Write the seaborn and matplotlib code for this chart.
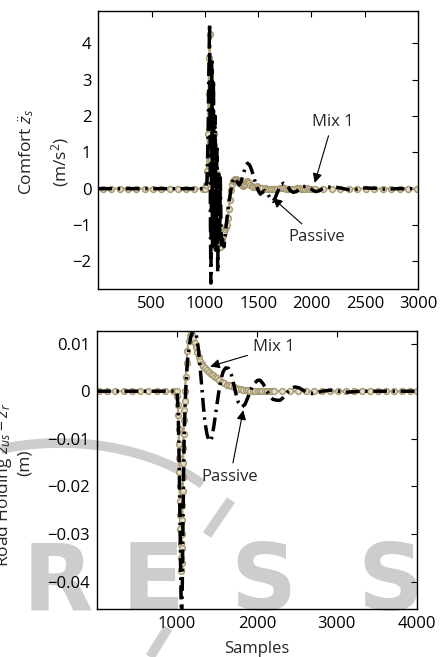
import pandas as pd
import seaborn as sns
import matplotlib.pyplot as plt
from matplotlib.patches import Arc
from matplotlib.lines import Line2D
from matplotlib.transforms import IdentityTransform

## Data
# top panel: comfort (body acceleration), m/s^2
top_passive_x = [0, 1000, 1020, 1030, 1038, 1044, 1048, 1052, 1056, 1060,
                 1064, 1068, 1072, 1076, 1080, 1084, 1088, 1092, 1096, 1100,
                 1104, 1108, 1112, 1116, 1120, 1124, 1128, 1132, 1136, 1140,
                 1144, 1150, 1156, 1162, 1170, 1180, 1190, 1200, 1220, 1240,
                 1260, 1280, 1300, 1320, 1340, 1360, 1380, 1400, 1420, 1440,
                 1460, 1480, 1500, 1520, 1540, 1560, 1580, 1600, 1620, 1640,
                 1660, 1680, 1700, 1720, 1740, 1760, 1780, 1800, 1830, 1860,
                 1890, 1920, 1950, 1980, 2010, 2040, 2070, 2100, 2150, 2200,
                 2250, 2300, 2350, 2400, 2450, 2500, 2600, 2700, 2800, 3000]
top_passive_y = [0, 0, 0.2, 1.5, 3.5, 4.55, 2.0, -1.0, -2.6, -0.5,
                 3.6, 1.0, -1.6, 0.5, 3.0, 1.0, -1.5, -0.5, 2.0, 0.5,
                 -1.7, -1.0, 1.2, 0.0, -2.3, -1.2, 0.4, -0.5, -1.5, -1.0,
                 0.3, -0.8, -1.6, -1.3, -1.5, -1.6, -1.3, -1.0, -0.5, -0.1,
                 0.2, 0.3, 0.2, 0.1, 0.2, 0.4, 0.6, 0.7, 0.65, 0.5,
                 0.3, 0.1, -0.05, -0.15, -0.1, -0.05, -0.1, -0.2, -0.3, -0.35,
                 -0.25, -0.1, 0.05, 0.12, 0.15, 0.12, 0.05, -0.05, -0.1, -0.08,
                 0.0, 0.05, 0.07, 0.03, -0.04, -0.08, -0.06, -0.01, 0.04, 0.05,
                 0.03, 0.0, -0.03, -0.03, 0.0, 0.02, 0.01, -0.02, 0.0, 0.0]

top_mix_x = [44, 122, 200, 278, 356, 434, 512, 590, 668, 746, 824, 902, 980,
             1000, 1010, 1020, 1028, 1034, 1040, 1045, 1050, 1054, 1058,
             1062, 1066, 1070, 1074, 1078, 1082, 1086, 1090, 1094, 1098,
             1102, 1106, 1110, 1114, 1118, 1122, 1126, 1130, 1135, 1140,
             1148, 1156, 1165, 1175, 1185, 1195, 1205, 1215, 1225, 1235,
             1245, 1255, 1265, 1275, 1285, 1295, 1305, 1315, 1325, 1335,
             1345, 1355, 1365, 1375, 1385, 1395, 1405, 1415, 1425, 1440,
             1455, 1470, 1485, 1500, 1520, 1540, 1560, 1580, 1600, 1620,
             1640, 1660, 1680, 1700, 1720, 1740, 1760, 1780, 1800, 1820,
             1840, 1860, 1880, 1900, 1920, 1940, 1960, 1980, 2000, 2030,
             2110, 2190, 2270, 2350, 2430, 2510, 2590, 2670, 2750, 2830,
             2910, 2990]
top_mix_y = [0, 0, 0, 0, 0, 0, 0, 0, 0, 0, 0, 0, 0,
             0.0, 0.1, 0.5, 1.5, 2.6, 3.6, 4.25, 3.2, 2.0, 0.8,
             -0.6, -1.6, -1.2, 0.0, 1.0, 1.5, 1.2, 0.3, -0.6, -1.3,
             -1.6, -1.2, -0.4, 0.2, 0.4, -0.1, -0.8, -1.2, -1.5, -1.6,
             -1.5, -1.4, -1.3, -1.2, -1.1, -1.05, -1.0, -0.8, -0.55, -0.3,
             -0.05, 0.12, 0.22, 0.25, 0.26, 0.26, 0.25, 0.22, 0.18, 0.14,
             0.1, 0.08, 0.09, 0.13, 0.17, 0.2, 0.19, 0.15, 0.1, 0.06,
             0.04, 0.05, 0.06, 0.05, 0.03, 0.02, 0.01, 0.0, -0.01, -0.02,
             -0.02, -0.01, 0.0, 0.01, 0.02, 0.01, 0.0, -0.01, -0.02, -0.01,
             0.0, 0.01, 0.01, 0.0, -0.01, 0.0, 0.01, 0.0, 0.0, 0.0,
             0, 0, 0, 0, 0, 0, 0, 0, 0, 0,
             0, 0]

# bottom panel: road holding (zus - zr), m
bot_passive_x = [0, 1000, 1015, 1028, 1040, 1050, 1058, 1066, 1074, 1082,
                 1090, 1100, 1115, 1130, 1150, 1170, 1190, 1210, 1230, 1250,
                 1270, 1290, 1310, 1330, 1350, 1375, 1400, 1416, 1435, 1460,
                 1490, 1520, 1550, 1580, 1610, 1646, 1680, 1710, 1740, 1770,
                 1812, 1850, 1890, 1930, 1970, 2010, 2041, 2080, 2120, 2160,
                 2200, 2250, 2291, 2340, 2390, 2440, 2479, 2530, 2580, 2630,
                 2687, 2750, 2820, 2900, 2980, 3060, 3140, 3300, 3500, 4000]
bot_passive_y = [0, 0, -0.004, -0.015, -0.03, -0.042, -0.05, -0.042, -0.03, -0.019,
                 -0.01, -0.004, 0.002, 0.006, 0.0092, 0.0112, 0.0122, 0.0126, 0.0125, 0.0112,
                 0.0085, 0.005, 0.001, -0.003, -0.0065, -0.009, -0.0103, -0.0105, -0.0098, -0.0075,
                 -0.004, -0.0005, 0.0025, 0.0042, 0.0049, 0.0048, 0.0035, 0.0015, -0.0007, -0.0024,
                 -0.0033, -0.0028, -0.0012, 0.0005, 0.0017, 0.0023, 0.0023, 0.0015, 0.0002, -0.001,
                 -0.0017, -0.0019, -0.0019, -0.0012, -0.0001, 0.0007, 0.0009, 0.0007, 0.0002, -0.0003,
                 -0.0005, -0.0003, 0.0, 0.0002, 0.0001, -0.0001, -0.0002, 0, 0, 0]

bot_mix_x = [20, 124, 228, 332, 436, 540, 644, 748, 852, 956,
             1000, 1006, 1012, 1016, 1020, 1024, 1027, 1030, 1033, 1036,
             1039, 1042, 1045, 1048, 1051, 1054, 1057, 1060, 1063, 1066,
             1069, 1072, 1075, 1078, 1081, 1084, 1088, 1092, 1097, 1102,
             1110, 1120, 1130, 1145, 1160, 1175, 1190, 1205, 1220, 1235,
             1250, 1270, 1290, 1310, 1330, 1350, 1375, 1400, 1425, 1450,
             1475, 1500, 1530, 1560, 1590, 1620, 1650, 1680, 1710, 1740,
             1770, 1800, 1830, 1860, 1890, 1920, 1950, 1980, 2010, 2040,
             2070, 2100, 2130, 2160, 2190, 2220,
             2320, 2420, 2520, 2620, 2720, 2820, 2920, 3020, 3120, 3220,
             3320, 3420, 3520, 3620, 3720, 3820, 3920, 4000]
bot_mix_y = [0, 0, 0, 0, 0, 0, 0, 0, 0, 0,
             0, -0.001, -0.003, -0.005, -0.008, -0.011, -0.014, -0.017, -0.02, -0.023,
             -0.026, -0.029, -0.032, -0.035, -0.0375, -0.0378, -0.036, -0.033, -0.03, -0.027,
             -0.024, -0.021, -0.018, -0.015, -0.012, -0.009, -0.006, -0.004, -0.002, 0.0,
             0.003, 0.006, 0.0085, 0.0105, 0.0116, 0.012, 0.0119, 0.0112, 0.0102, 0.0092,
             0.0082, 0.0072, 0.0064, 0.0058, 0.0053, 0.0049, 0.0045, 0.0041, 0.0037, 0.0034,
             0.003, 0.0027, 0.0023, 0.002, 0.0017, 0.0014, 0.0012, 0.001, 0.0008, 0.0006,
             0.0005, 0.0004, 0.0003, 0.0002, 0.0002, 0.0001, 0.0001, 0.0, 0.0, 0.0,
             0, 0, 0, 0, 0, 0,
             0, 0, 0, 0, 0, 0, 0, 0, 0, 0,
             0, 0, 0, 0, 0, 0, 0, 0]

top_yticks = [-2, -1, 0, 1, 2, 3, 4]
top_xticks = [500, 1000, 1500, 2000, 2500, 3000]
bot_yticks = [-0.04, -0.03, -0.02, -0.01, 0, 0.01]
bot_yticklabels = ['\u22120.04', '\u22120.03', '\u22120.02', '\u22120.01', '0', '0.01']
bot_xticks = [1000, 2000, 3000, 4000]

## Style
sns.set_style('white')
plt.rcParams['font.family'] = ['Open Sans', 'DejaVu Sans']
plt.rcParams['mathtext.fontset'] = 'custom'
plt.rcParams['mathtext.rm'] = 'Open Sans'
plt.rcParams['mathtext.it'] = 'Open Sans:italic'

tan_line = '#b2a37f'
tan_edge = '#a6976f'
tan_face = '#e4ddcb'
passive_ls = (0, (4, 1.6, 0.7, 1.6))
wm_gray = '#cdcdcd'
fs_tick = 12
fs_text = 12.5

fig = plt.figure(figsize=(4.41, 6.57), dpi=100)
ax_top = fig.add_axes([0.223, 0.5597, 0.725, 0.424])
ax_bot = fig.add_axes([0.22, 0.0726, 0.725, 0.424])

## publisher watermark behind the plots (pixel coords, origin bottom-left)
for letter, xc in [('P', -0.07), ('R', 0.132), ('E', 0.347), ('S', 0.597), ('S', 0.885)]:
    fig.text(xc, 0.0715, letter, fontsize=66, fontweight='bold', family='DejaVu Sans',
             color=wm_gray, ha='center', va='baseline', zorder=-1)
fig.add_artist(Arc((60, 97), 374, 234, theta1=28, theta2=118, lw=7, color=wm_gray,
                   transform=IdentityTransform(), zorder=-1))
fig.add_artist(Line2D([231, 207], [157, 122], lw=7, color=wm_gray, solid_capstyle='butt',
                      transform=IdentityTransform(), zorder=-1))
fig.add_artist(Line2D([168, 150], [29, 0], lw=7, color=wm_gray, solid_capstyle='butt',
                      transform=IdentityTransform(), zorder=-1))

def draw_panel(ax, mx, my, px, py):
    ax.patch.set_visible(False)
    sns.lineplot(x=mx, y=my, ax=ax, color=tan_line, lw=1.6, marker='o', markersize=4.2,
                 markerfacecolor=tan_face, markeredgecolor=tan_edge, markeredgewidth=1.0,
                 sort=False, zorder=2)
    sns.lineplot(x=px, y=py, ax=ax, color='black', lw=2.5, linestyle=passive_ls,
                 sort=False, zorder=3)
    ax.tick_params(direction='in', top=True, right=True, length=4, width=0.8,
                   labelsize=fs_tick, pad=5, colors='black')
    for s in ax.spines.values():
        s.set_visible(True)
        s.set_color('black')
        s.set_linewidth(1.0)

draw_panel(ax_top, top_mix_x, top_mix_y, top_passive_x, top_passive_y)
ax_top.set_xlim(0, 3000)
ax_top.set_ylim(-2.77, 4.9)
ax_top.set_xticks(top_xticks)
ax_top.set_yticks(top_yticks)
ax_top.set_yticklabels(['\u2212%d' % -t if t < 0 else '%d' % t for t in top_yticks])

draw_panel(ax_bot, bot_mix_x, bot_mix_y, bot_passive_x, bot_passive_y)
ax_bot.set_xlim(0, 4000)
ax_bot.set_ylim(-0.0458, 0.0127)
ax_bot.set_xticks(bot_xticks)
ax_bot.set_yticks(bot_yticks)
ax_bot.set_yticklabels(bot_yticklabels)
ax_bot.set_xlabel('Samples', fontsize=fs_tick, labelpad=6)

arrow = dict(arrowstyle='-|>', color='black', lw=0.8, mutation_scale=14, shrinkA=2, shrinkB=0)
ax_top.annotate('Mix 1', xy=(2030, 0.16), xytext=(2198, 1.84), fontsize=fs_tick,
                ha='center', va='center', arrowprops=arrow)
ax_top.annotate('Passive', xy=(1637, -0.26), xytext=(2048, -1.33), fontsize=fs_tick,
                ha='center', va='center', arrowprops=arrow)
ax_bot.annotate('Mix 1', xy=(1416, 0.0052), xytext=(2216, 0.0092), fontsize=fs_tick,
                ha='center', va='center', arrowprops=arrow)
ax_bot.annotate('Passive', xy=(1829, -0.004), xytext=(1666, -0.018), fontsize=fs_tick,
                ha='center', va='center', arrowprops=arrow)

## y labels (two lines each)
fig.text(27 / 441, 1 - 152 / 657, r'Comfort $\ddot{z}_s$', rotation=90, fontsize=fs_text,
         ha='center', va='center')
fig.text(60 / 441, 1 - 162 / 657, r'(m/s$^2$)', rotation=90, fontsize=fs_text,
         ha='center', va='center')
fig.text(4 / 441, 1 - 485 / 657, r'Road Holding $z_{us} - z_r$', rotation=90, fontsize=fs_text,
         ha='center', va='center')
fig.text(25 / 441, 1 - 463 / 657, '(m)', rotation=90, fontsize=fs_text,
         ha='center', va='center')

plt.savefig('out.png', dpi=100)
plt.close()
